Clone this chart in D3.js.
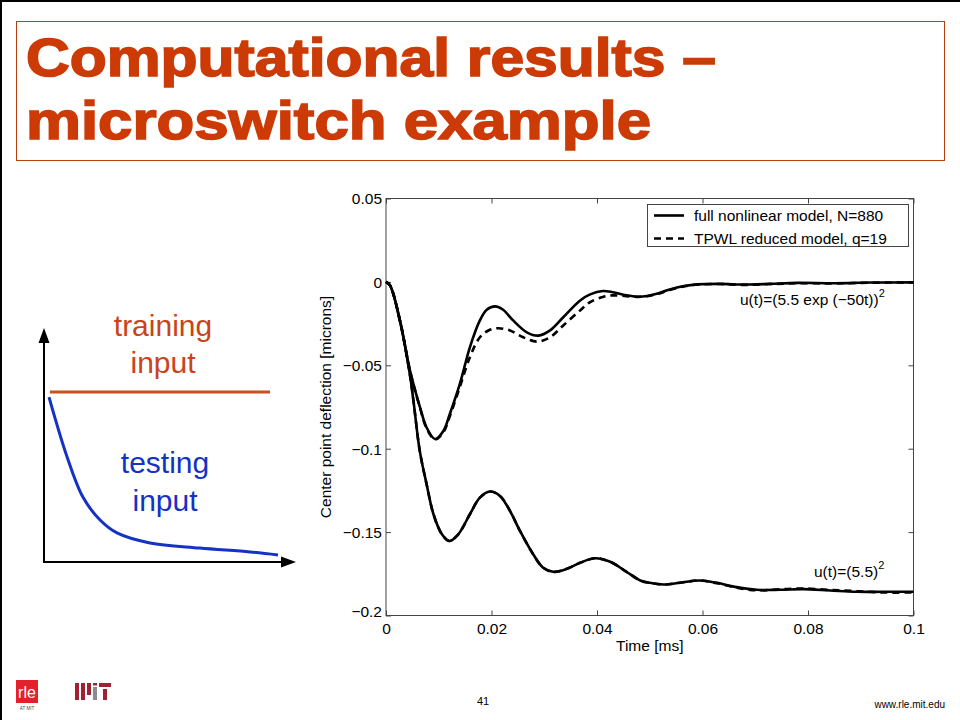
<!DOCTYPE html>
<html>
<head>
<meta charset="utf-8">
<script src="https://cdn.jsdelivr.net/npm/d3@7"></script>
<style>
  html, body { margin: 0; padding: 0; background: #fff; }
  svg { display: block; }
  text { font-family: "Liberation Sans", Arial, Helvetica, sans-serif; }
</style>
</head>
<body>
<svg id="slide" width="960" height="720"></svg>
<script>
// ---------------- DATA ----------------
const xTicks = [0, 0.02, 0.04, 0.06, 0.08, 0.1];
const xTickLabels = ["0", "0.02", "0.04", "0.06", "0.08", "0.1"];
const yTicks = [0.05, 0, -0.05, -0.1, -0.15, -0.2];
const yTickLabels = ["0.05", "0", "\u22120.05", "\u22120.1", "\u22120.15", "\u22120.2"];

const seriesNames = ["full nonlinear model, N=880", "TPWL reduced model, q=19"];

// u(t) = (5.5 exp(-50t))^2, full model
const timeExpFull = [0, 0.00076, 0.00265, 0.00455, 0.00645, 0.0077, 0.0093, 0.0109, 0.0121, 0.0140, 0.0159, 0.0178, 0.0191, 0.0207, 0.0222, 0.0241, 0.0267, 0.0289, 0.0311, 0.0336, 0.0368, 0.0387, 0.0411, 0.0430, 0.0455, 0.0476, 0.0495, 0.0515, 0.0538, 0.0565, 0.0590, 0.0633, 0.068, 0.0728, 0.078, 0.085, 0.092, 0.1];
const defExpFull = [0, -0.0021, -0.0231, -0.0532, -0.0752, -0.0873, -0.0942, -0.0892, -0.0792, -0.0612, -0.0392, -0.0231, -0.0167, -0.0147, -0.0167, -0.0231, -0.0302, -0.0322, -0.0291, -0.0212, -0.0111, -0.0075, -0.0055, -0.0062, -0.0080, -0.0089, -0.0085, -0.0070, -0.0045, -0.0025, -0.0015, -0.0012, -0.0016, -0.0012, -0.0006, -0.0008, -0.0004, -0.0003];

// u(t) = (5.5 exp(-50t))^2, TPWL reduced model
const timeExpTpwl = [0, 0.00076, 0.00265, 0.00455, 0.00645, 0.0077, 0.0093, 0.0109, 0.0121, 0.0140, 0.0159, 0.0178, 0.0197, 0.0213, 0.0235, 0.0260, 0.0286, 0.0311, 0.0336, 0.0368, 0.0387, 0.0411, 0.0430, 0.0455, 0.0476, 0.0495, 0.0515, 0.0538, 0.0565, 0.0590, 0.0633, 0.068, 0.0728, 0.078, 0.085, 0.092, 0.1];
const defExpTpwl = [0, -0.0021, -0.0231, -0.0532, -0.0755, -0.0878, -0.0945, -0.0900, -0.0805, -0.0630, -0.0452, -0.0332, -0.0287, -0.0278, -0.0291, -0.0332, -0.0358, -0.0332, -0.0261, -0.0171, -0.0121, -0.0090, -0.0081, -0.0085, -0.0090, -0.0086, -0.0072, -0.0048, -0.0027, -0.0016, -0.0013, -0.0018, -0.0013, -0.0008, -0.0009, -0.0005, -0.0003];

// u(t) = (5.5)^2
const timeConst = [0, 0.00076, 0.00265, 0.00455, 0.0052, 0.0064, 0.0077, 0.0090, 0.0106, 0.0120, 0.0137, 0.0159, 0.0178, 0.0197, 0.0216, 0.0235, 0.0254, 0.0279, 0.0298, 0.0317, 0.0343, 0.0368, 0.0396, 0.0425, 0.0456, 0.0482, 0.0500, 0.0526, 0.0557, 0.0595, 0.0627, 0.0665, 0.0703, 0.0747, 0.0791, 0.0842, 0.0892, 0.0943, 0.1];
const defConstFull = [0, -0.0021, -0.0235, -0.0560, -0.0712, -0.1013, -0.1213, -0.1393, -0.1513, -0.1553, -0.1513, -0.1393, -0.1293, -0.1257, -0.1283, -0.1373, -0.1493, -0.1633, -0.1714, -0.1738, -0.1720, -0.1684, -0.1657, -0.1678, -0.1738, -0.1790, -0.1804, -0.1814, -0.1804, -0.1790, -0.1804, -0.1830, -0.1846, -0.1846, -0.1842, -0.1850, -0.1858, -0.1858, -0.1858];
const defConstTpwl = [0, -0.0021, -0.0235, -0.0560, -0.0712, -0.1013, -0.1213, -0.1393, -0.1513, -0.1553, -0.1513, -0.1393, -0.1293, -0.1257, -0.1283, -0.1373, -0.1493, -0.1633, -0.1714, -0.1738, -0.1720, -0.1684, -0.1657, -0.1678, -0.1738, -0.1790, -0.1804, -0.1814, -0.1804, -0.1790, -0.1806, -0.1834, -0.1849, -0.1843, -0.1838, -0.1847, -0.1854, -0.1862, -0.1862];

// Schematic (left): normalised input shapes
const trainT = [0.004, 0.965];
const trainU = [1, 1];
const testT = [0, 0.079, 0.148, 0.223, 0.297, 0.441, 0.659, 0.878, 1.0];
const testU = [0.97, 0.618, 0.382, 0.247, 0.171, 0.112, 0.082, 0.059, 0.041];

// ---------------- DRAW ----------------
const svg = d3.select("#slide");
const titleColor = "#cc3a06";

// slide frame (top / left edges)
svg.append("line").attr("x1", 0).attr("y1", 1).attr("x2", 960).attr("y2", 1).attr("stroke", "#000").attr("stroke-width", 2);
svg.append("line").attr("x1", 1).attr("y1", 0).attr("x2", 1).attr("y2", 720).attr("stroke", "#000").attr("stroke-width", 2);

// Title box
svg.append("rect").attr("x", 16.5).attr("y", 21.5).attr("width", 928).attr("height", 139)
  .attr("fill", "none").attr("stroke", "#b8400e").attr("stroke-width", 1);
const titleLines = ["Computational results \u2013", "microswitch example"];
const titleWidths = [690, 625];
titleLines.forEach((t, i) => {
  svg.append("text").attr("x", 26).attr("y", 76 + i * 63)
    .attr("font-size", 53).attr("font-weight", "bold")
    .attr("fill", titleColor).attr("stroke", titleColor).attr("stroke-width", 1.6)
    .attr("textLength", titleWidths[i]).attr("lengthAdjust", "spacingAndGlyphs")
    .text(t);
});

// ---------- Left schematic ----------
const sx = d3.scaleLinear().domain([0, 1]).range([49, 278]);
const sy = d3.scaleLinear().domain([0, 1]).range([562, 392]);
const g0 = svg.append("g");
// axes
g0.append("line").attr("x1", 44).attr("y1", 563).attr("x2", 44).attr("y2", 338).attr("stroke", "#000").attr("stroke-width", 2);
g0.append("line").attr("x1", 43).attr("y1", 562).attr("x2", 286).attr("y2", 562).attr("stroke", "#000").attr("stroke-width", 2);
g0.append("path").attr("d", "M44,328 L38.5,343 L49.5,343 Z").attr("fill", "#000");
g0.append("path").attr("d", "M296,562 L281,556.5 L281,567.5 Z").attr("fill", "#000");
const sline = d3.line().x((d, i, arr) => sx(d[0])).y(d => sy(d[1])).curve(d3.curveCatmullRom.alpha(0.5));
g0.append("path").attr("d", sline(trainT.map((t, i) => [t, trainU[i]])))
  .attr("fill", "none").attr("stroke", "#c9501f").attr("stroke-width", 3);
g0.append("path").attr("d", sline(testT.map((t, i) => [t, testU[i]])))
  .attr("fill", "none").attr("stroke", "#1432c4").attr("stroke-width", 3);
[["training", 336], ["input", 373]].forEach(([t, y]) => {
  g0.append("text").attr("x", 163).attr("y", y).attr("text-anchor", "middle")
    .attr("font-size", 30).attr("fill", "#c8441a").text(t);
});
[["testing", 473], ["input", 511]].forEach(([t, y]) => {
  g0.append("text").attr("x", 165).attr("y", y).attr("text-anchor", "middle")
    .attr("font-size", 30).attr("fill", "#1432c4").text(t);
});

// ---------- Main chart ----------
const L = 386, R = 913.5, T = 198.5, B = 615.5;
const x = d3.scaleLinear().domain([0, 0.1]).range([L, R]);
const y = d3.scaleLinear().domain([-0.2, 0.05]).range([B, T]);
const g = svg.append("g");
const axisColor = "#444";
const fs = 15.5;

// frame
g.append("rect").attr("x", L).attr("y", T).attr("width", R - L).attr("height", B - T)
  .attr("fill", "none").attr("stroke", axisColor).attr("stroke-width", 1);

// ticks with d3 axes (inward)
const axB = d3.axisBottom(x).tickValues(xTicks).tickSizeInner(-5).tickSizeOuter(0).tickFormat((d, i) => xTickLabels[i]);
const axT = d3.axisTop(x).tickValues(xTicks).tickSizeInner(-5).tickSizeOuter(0).tickFormat("");
const axL = d3.axisLeft(y).tickValues(yTicks).tickSizeInner(-5).tickSizeOuter(0).tickFormat((d, i) => yTickLabels[i]);
const axR = d3.axisRight(y).tickValues(yTicks).tickSizeInner(-5).tickSizeOuter(0).tickFormat("");
function styleAxis(sel) {
  sel.select(".domain").remove();
  sel.selectAll(".tick line").attr("stroke", axisColor);
  sel.selectAll(".tick text").attr("font-size", fs).attr("fill", "#000")
    .attr("font-family", "'Liberation Sans', Arial, sans-serif");
}
g.append("g").attr("transform", `translate(0,${B})`).call(axB).call(styleAxis)
  .selectAll(".tick text").attr("dy", "0.95em").attr("y", 4);
g.append("g").attr("transform", `translate(0,${T})`).call(axT).call(styleAxis);
const gl = g.append("g").attr("transform", `translate(${L},0)`).call(axL).call(styleAxis);
gl.selectAll(".tick text").attr("x", -4).attr("dy", (d) => d === -0.2 ? "0.05em" : "0.35em");
g.append("g").attr("transform", `translate(${R},0)`).call(axR).call(styleAxis);

// axis labels
g.append("text").attr("x", (L + R) / 2).attr("y", 651).attr("text-anchor", "middle")
  .attr("font-size", fs).text("Time [ms]");
g.append("text").attr("transform", `translate(331,${(T + B) / 2}) rotate(-90)`).attr("text-anchor", "middle")
  .attr("font-size", fs).text("Center point deflection [microns]");

// curves
const line = d3.line().x(d => x(d[0])).y(d => y(d[1])).curve(d3.curveCatmullRom.alpha(0.5));
const zip = (a, b) => a.map((v, i) => [v, b[i]]);
const curves = [
  { d: zip(timeExpFull, defExpFull), dash: null },
  { d: zip(timeConst, defConstFull), dash: null },
  { d: zip(timeExpTpwl, defExpTpwl), dash: "7,5" },
  { d: zip(timeConst, defConstTpwl), dash: "7,5" }
];
curves.forEach(c => {
  g.append("path").attr("d", line(c.d)).attr("fill", "none").attr("stroke", "#000")
    .attr("stroke-width", 2.6).attr("stroke-dasharray", c.dash);
});

// legend
g.append("rect").attr("x", 647.5).attr("y", 204.5).attr("width", 261).attr("height", 42)
  .attr("fill", "#fff").attr("stroke", axisColor).attr("stroke-width", 1);
seriesNames.forEach((name, i) => {
  const ly = 215.5 + i * 23;
  g.append("line").attr("x1", 654).attr("x2", 684).attr("y1", ly).attr("y2", ly)
    .attr("stroke", "#000").attr("stroke-width", 2.6).attr("stroke-dasharray", i === 0 ? null : "7,5");
  g.append("text").attr("x", 694).attr("y", ly + 5.5).attr("font-size", fs).text(name);
});

// annotations
const a1 = g.append("text").attr("x", 740).attr("y", 305).attr("font-size", fs);
a1.append("tspan").text("u(t)=(5.5 exp (\u221250t))");
a1.append("tspan").attr("font-size", 11).attr("dy", -8).text("2");
const a2 = g.append("text").attr("x", 814).attr("y", 577).attr("font-size", fs);
a2.append("tspan").text("u(t)=(5.5)");
a2.append("tspan").attr("font-size", 11).attr("dy", -8).text("2");

// ---------- Footer ----------
const f = svg.append("g");
f.append("rect").attr("x", 16).attr("y", 680).attr("width", 22).attr("height", 23).attr("fill", "#e4202a");
f.append("text").attr("x", 27).attr("y", 698).attr("text-anchor", "middle").attr("font-size", 16)
  .attr("fill", "#fff").attr("font-family", "'Liberation Sans Narrow', 'Liberation Sans', sans-serif").text("rle");
f.append("text").attr("x", 27).attr("y", 710).attr("text-anchor", "middle").attr("font-size", 4.5)
  .attr("fill", "#444").text("AT MIT");
// MIT logo bars
const mitBars = [[75, 683, 4, 17, "#a31f34"], [81, 683, 4, 17, "#a31f34"], [87, 683, 4, 12, "#a31f34"], [93, 687, 4, 13, "#8a8b8c"], [99, 683, 12, 4, "#a31f34"], [103, 689, 4, 11, "#a31f34"], [93, 683, 4, 2.5, "#a31f34"]];
mitBars.forEach(b => f.append("rect").attr("x", b[0]).attr("y", b[1]).attr("width", b[2]).attr("height", b[3]).attr("fill", b[4]));
f.append("text").attr("x", 483).attr("y", 705).attr("text-anchor", "middle").attr("font-size", 11).text("41");
f.append("text").attr("x", 945).attr("y", 708).attr("text-anchor", "end").attr("font-size", 10)
  .attr("font-family", "'Liberation Sans Narrow', 'Liberation Sans', sans-serif").text("www.rle.mit.edu");
</script>
</body>
</html>
